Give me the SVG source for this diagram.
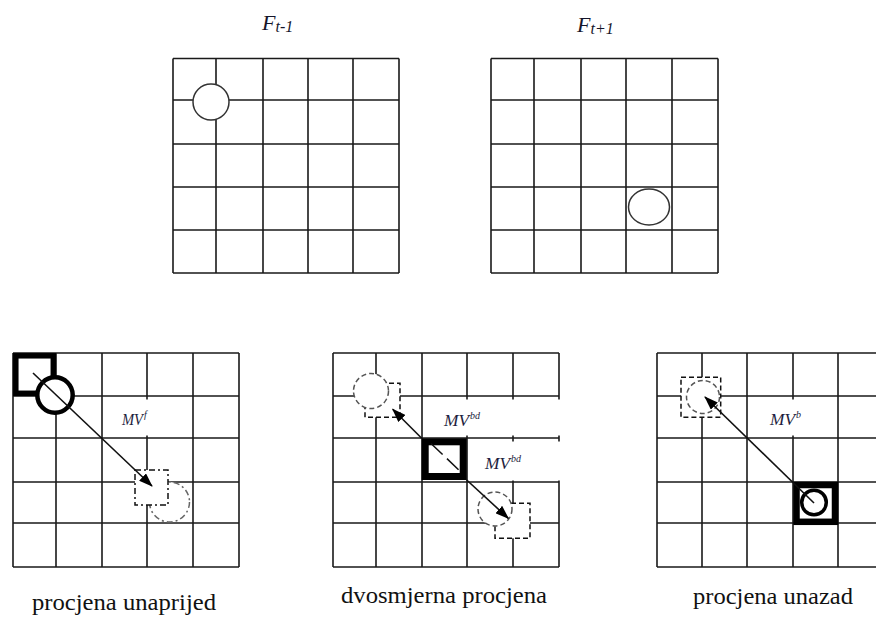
<svg xmlns="http://www.w3.org/2000/svg" width="876" height="617" viewBox="0 0 876 617">
<style>
.grid{fill:none;stroke:#1a1a1a;stroke-width:1.6}
.thin{fill:#fff;stroke:#333;stroke-width:1.5}
.thick{fill:#fff;stroke:#000}
.dsq{fill:#fff;stroke:#111;stroke-width:1.5;stroke-dasharray:5 3}
.dcir{fill:#fff;stroke:#555;stroke-width:1.5;stroke-dasharray:5 3}
.ddsq{fill:#fff;stroke:#111;stroke-width:1.5;stroke-dasharray:6 3 2 3}
.ddcir{fill:#fff;stroke:#666;stroke-width:1.5;stroke-dasharray:6 3 2 3}
.arr{stroke:#111;stroke-width:1.6;fill:none;marker-end:url(#ah)}
.box{fill:#fff;stroke:none}
</style>
<defs>
<marker id="ah" markerUnits="userSpaceOnUse" markerWidth="14" markerHeight="10" refX="13" refY="5" orient="auto">
<path d="M0,0 L14,5 L0,10 z" fill="#000"/>
</marker>
</defs>

<g id="frame-t-minus-1">
<text font-family="'Liberation Serif'" font-style="italic" fill="#15152a" x="262" y="30" font-size="22">F<tspan font-size="16" dy="2">t-1</tspan></text>
<path class="grid" d="M173,58.5H399M173,100H399M173,144H399M173,187H399M173,230H399M173,273H399M173,58.5V273M216,58.5V273M263,58.5V273M308,58.5V273M353,58.5V273M399,58.5V273"/>
<circle class="thin" cx="211" cy="102" r="18"/>
</g>

<g id="frame-t-plus-1">
<text font-family="'Liberation Serif'" font-style="italic" fill="#15152a" x="577" y="32" font-size="22">F<tspan font-size="16" dy="2">t+1</tspan></text>
<path class="grid" d="M491,58.5H718M491,100H718M491,144H718M491,187H718M491,230H718M491,273H718M491,58.5V273M534,58.5V273M581,58.5V273M626,58.5V273M672,58.5V273M718,58.5V273"/>
<ellipse class="thin" cx="649" cy="207" rx="20.5" ry="18"/>
</g>

<g id="panel-forward">
<path class="grid" d="M13,353H239M13,396H239M13,438H239M13,482H239M13,523H239M13,567H239M13,353V567M56,353V567M102,353V567M147,353V567M193,353V567M239,353V567"/>
<rect class="box" x="106" y="399.5" width="84" height="36"/>
<rect class="thick" x="15.8" y="355.8" width="37.5" height="37.5" stroke-width="5.5"/>
<circle class="thick" cx="55" cy="395" r="17.7" stroke-width="4.5"/>
<circle class="ddcir" cx="169.5" cy="502" r="20"/>
<rect class="ddsq" x="135" y="470" width="33" height="35"/>
<text font-family="'Liberation Serif'" font-size="23" fill="#111" x="32" y="610" textLength="184" lengthAdjust="spacingAndGlyphs">procjena unaprijed</text>
</g>

<g id="panel-bidirectional">
<path class="grid" d="M333,353H559M333,396H559M333,438H559M333,482H559M333,523H559M333,567H559M333,353V567M376,353V567M422,353V567M467,353V567M513,353V567M559,353V567"/>
<rect class="box" x="425" y="399.5" width="140" height="36"/>
<rect class="box" x="470" y="441.5" width="95" height="39"/>
<rect class="dsq" x="365" y="383.3" width="35" height="34"/>
<circle class="dcir" cx="371" cy="391" r="17.5"/>
<rect class="dsq" x="495" y="503.3" width="35" height="35"/>
<circle class="dcir" cx="495" cy="509" r="17"/>
<rect class="thick" x="425.2" y="441.8" width="38" height="34.7" stroke-width="7"/>
<line x1="431" y1="443.5" x2="461" y2="472" stroke="#111" stroke-width="1.5" stroke-dasharray="16 6"/>
<text font-family="'Liberation Serif'" font-size="23" fill="#111" x="341" y="603" textLength="206" lengthAdjust="spacingAndGlyphs">dvosmjerna procjena</text>
</g>

<g id="panel-backward">
<path class="grid" d="M657,353H884M657,396H884M657,438H884M657,482H884M657,523H884M657,567H884M657,353V567M702,353V567M747,353V567M793,353V567M838,353V567"/>
<rect class="box" x="750" y="399.5" width="85" height="36"/>
<rect class="dsq" x="681" y="377.3" width="39.7" height="40"/>
<circle class="dcir" cx="703" cy="397" r="16.5"/>
<rect class="thick" x="796.5" y="485" width="38.5" height="36.8" stroke-width="6.5"/>
<circle class="thick" cx="814" cy="502.5" r="12.3" stroke-width="3.5"/>
<text font-family="'Liberation Serif'" font-size="23" fill="#111" x="693" y="604" textLength="160" lengthAdjust="spacingAndGlyphs">procjena unazad</text>
</g>

<g id="connectors">
<line class="arr" x1="33" y1="373" x2="152" y2="486"/>
<line class="arr" x1="421.7" y1="438.3" x2="392.7" y2="409.3"/>
<line class="arr" x1="466.7" y1="480" x2="508.3" y2="518.3"/>
<line class="arr" x1="814" y1="503" x2="705" y2="397"/>
<text font-family="'Liberation Serif'" font-style="italic" font-size="16" fill="#1e1e40" x="122" y="425"><tspan textLength="21" lengthAdjust="spacingAndGlyphs">MV</tspan><tspan font-size="10" dx="1" dy="-7">f</tspan></text>
<text font-family="'Liberation Serif'" font-style="italic" font-size="16" fill="#1e1e40" x="444" y="426"><tspan textLength="25" lengthAdjust="spacingAndGlyphs">MV</tspan><tspan font-size="10" dx="1" dy="-7">bd</tspan></text>
<text font-family="'Liberation Serif'" font-style="italic" font-size="16" fill="#1e1e40" x="485" y="469"><tspan textLength="25" lengthAdjust="spacingAndGlyphs">MV</tspan><tspan font-size="10" dx="1" dy="-7">bd</tspan></text>
<text font-family="'Liberation Serif'" font-style="italic" font-size="16" fill="#1e1e40" x="770" y="425"><tspan textLength="25" lengthAdjust="spacingAndGlyphs">MV</tspan><tspan font-size="10" dx="1" dy="-7">b</tspan></text>
</g>
</svg>
